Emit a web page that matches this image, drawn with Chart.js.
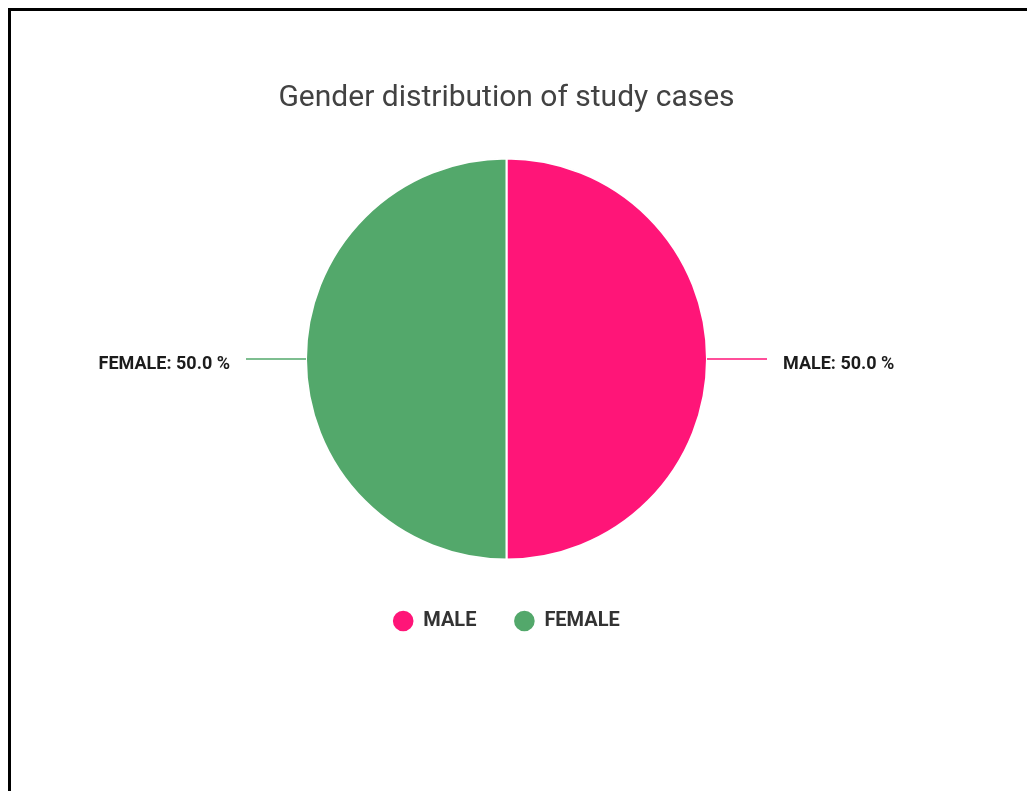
<!DOCTYPE html>
<html>
<head>
<meta charset="utf-8">
<script src="https://cdn.jsdelivr.net/npm/chart.js@4/dist/chart.umd.min.js"></script>
<style>
  html, body { margin: 0; padding: 0; background: #fff; overflow: hidden; }
  .frame {
    position: absolute; left: 8px; top: 8px; right: 0; bottom: 0;
    border-top: 3px solid #000; border-left: 3px solid #000;
  }
  #pie { position: absolute; left: 0; top: 0; }
</style>
</head>
<body>
<div class="frame"></div>
<canvas id="pie" width="1013" height="791"></canvas>
<script>
const genders = ['MALE', 'FEMALE'];
const cases = [50, 50];
const sliceColors = ['#ff1578', '#53a86b'];

// Percentage labels on a short horizontal leader line outside each slice
const sideLabels = {
  id: 'sideLabels',
  afterDatasetsDraw(chart) {
    const ctx = chart.ctx;
    const meta = chart.getDatasetMeta(0);
    const total = cases.reduce((a, b) => a + b, 0);
    ctx.save();
    meta.data.forEach((arc, i) => {
      const { x, y, startAngle, endAngle, outerRadius } = arc.getProps(['x', 'y', 'startAngle', 'endAngle', 'outerRadius'], true);
      const mid = (startAngle + endAngle) / 2;
      const dir = Math.cos(mid) >= 0 ? 1 : -1;
      const ex = x + Math.cos(mid) * outerRadius;
      const ey = y + Math.sin(mid) * outerRadius;
      const lx = ex + dir * 60;
      ctx.strokeStyle = sliceColors[i];
      ctx.lineWidth = 1.5;
      ctx.beginPath();
      ctx.moveTo(ex, ey);
      ctx.lineTo(lx, ey);
      ctx.stroke();
      const pct = (cases[i] / total * 100).toFixed(1);
      ctx.font = 'bold 18px Roboto';
      ctx.fillStyle = '#1c1c1c';
      ctx.textAlign = dir > 0 ? 'left' : 'right';
      ctx.textBaseline = 'alphabetic';
      ctx.fillText(genders[i] + ': ' + pct + ' %', lx + dir * 16, ey + 10);
    });
    ctx.restore();
  }
};

Chart.defaults.font.family = 'Roboto';

new Chart(document.getElementById('pie'), {
  type: 'pie',
  data: {
    labels: genders,
    datasets: [{
      data: cases,
      backgroundColor: sliceColors,
      borderColor: '#ffffff',
      borderWidth: 2,
      radius: 200.5
    }]
  },
  options: {
    responsive: false,
    animation: false,
    events: [],
    layout: { padding: { bottom: 150 } },
    plugins: {
      title: {
        display: true,
        text: 'Gender distribution of study cases',
        color: '#424242',
        font: { size: 30, weight: 'normal' },
        padding: { top: 80, bottom: 29 }
      },
      legend: {
        position: 'bottom',
        labels: {
          usePointStyle: true,
          pointStyle: 'circle',
          boxHeight: 16,
          boxWidth: 20,
          padding: 38,
          color: '#333333',
          font: { size: 20, weight: 'bold' }
        }
      },
      tooltip: { enabled: false }
    }
  },
  plugins: [sideLabels]
});
</script>
</body>
</html>
